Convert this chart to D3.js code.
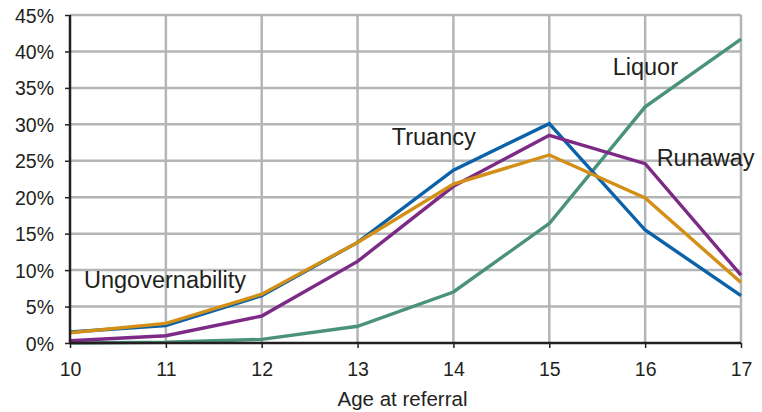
<!DOCTYPE html>
<html><head><meta charset="utf-8">
<script src="https://cdn.jsdelivr.net/npm/d3@7"></script>
<style>body{margin:0;background:#fff;} text{font-family:"Liberation Sans",Arial,sans-serif;fill:#231f20;}</style>
</head><body><svg id="c" width="762" height="412"></svg>
<script>
const ages = [10,11,12,13,14,15,16,17];
const yTicks = [0,5,10,15,20,25,30,35,40,45];
const truancy = [1.5,2.4,6.5,13.8,23.7,30.1,15.5,6.5];
const ungovernability = [1.4,2.7,6.7,13.8,21.8,25.8,19.9,8.3];
const runaway = [0.3,1.0,3.7,11.2,21.5,28.5,24.6,9.3];
const liquor = [0.0,0.1,0.5,2.3,7.0,16.4,32.4,41.7];
const seriesNames = ["Liquor","Truancy","Runaway","Ungovernability"];
const seriesColors = ["#4a927a","#0b62a8","#7c2a86","#d38f16"];
const seriesData = [liquor,truancy,runaway,ungovernability];

const svg = d3.select("#c");
const x = d3.scaleLinear().domain([10,17]).range([70,741]);
const y = d3.scaleLinear().domain([0,45]).range([343,15]);

// grid
svg.append("g").selectAll("line.h").data(yTicks.slice(1)).join("line")
  .attr("x1",70).attr("x2",741).attr("y1",d=>y(d)).attr("y2",d=>y(d))
  .attr("stroke","#b3b5b7").attr("stroke-width",2.5);
svg.append("g").selectAll("line.v").data(ages.slice(1)).join("line")
  .attr("x1",d=>x(d)).attr("x2",d=>x(d)).attr("y1",y(45)).attr("y2",y(0))
  .attr("stroke","#b3b5b7").attr("stroke-width",2.5);

// lines
const line = d3.line().x((d,i)=>x(ages[i])).y(d=>y(d));
svg.append("g").selectAll("path").data(seriesData).join("path")
  .attr("d",d=>line(d)).attr("fill","none")
  .attr("stroke",(d,i)=>seriesColors[i]).attr("stroke-width",3.4)
  .attr("stroke-linejoin","miter");

// axes
const yAxis = d3.axisLeft(y).tickValues(yTicks).tickFormat(d=>d+"%").tickSize(5).tickPadding(11);
const gy = svg.append("g").attr("transform","translate(70,0)").call(yAxis);
const xAxis = d3.axisBottom(x).tickValues(ages).tickFormat(d3.format("d")).tickSize(5).tickPadding(14);
const gx = svg.append("g").attr("transform","translate(0,343)").call(xAxis);
[gy,gx].forEach(g=>{
  g.select(".domain").attr("stroke","#231f20").attr("stroke-width",2.5);
  g.selectAll(".tick line").attr("stroke","#231f20").attr("stroke-width",1.5);
  g.selectAll(".tick text").style("font-size","19.5px").attr("fill","#231f20");
});
gy.select(".domain").attr("d","M0,"+y(45)+"V"+y(0));
gx.select(".domain").attr("d","M70,0H741");
gy.selectAll(".tick text").attr("dy","0.36em");

// series labels
const labels = [
  {t:"Ungovernability", a:10.146, v:7.55},
  {t:"Truancy", a:13.356, v:27.16},
  {t:"Liquor", a:15.661, v:36.77},
  {t:"Runaway", a:16.12, v:24.28}
];
svg.append("g").selectAll("text").data(labels).join("text")
  .attr("x",d=>x(d.a)).attr("y",d=>y(d.v)).text(d=>d.t)
  .style("font-size","23.5px");

svg.append("text").attr("x",402.5).attr("y",406).attr("text-anchor","middle")
  .style("font-size","20.5px").text("Age at referral");
</script></body></html>
